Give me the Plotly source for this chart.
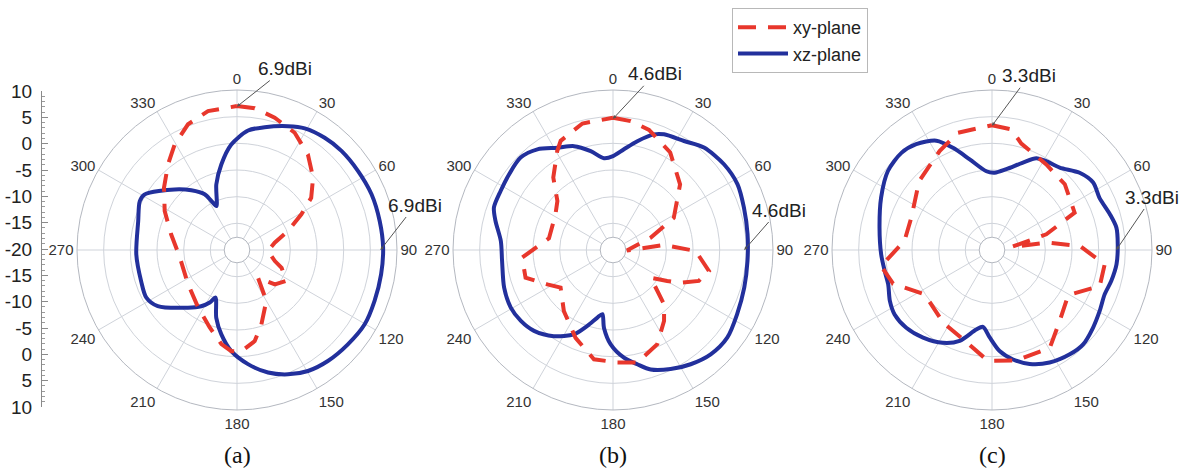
import math
import plotly.graph_objects as go

# ---------------- data (dB) ----------------
A_XZ_THETA = [5.3, 12.7, 22.4, 29.1, 38.0, 46.5, 56.9, 67.5, 78.5, 89.1, 99.6, 110.3, 120.2, 130.4,
              140.7, 149.6, 157.7, 165.8, 174.5, 183.2, 190.5, 197.0, 204.4, 207.4, 212.5, 220.4,
              234.7, 242.3, 252.0, 267.5, 286.3, 296.7, 301.1, 314.2, 322.6, 329.9, 332.4, 334.8,
              342.5, 349.6, 356.9]
A_XZ_R = [2.5, 3.6, 5.1, 6.1, 6.7, 7.0, 7.1, 7.3, 7.3, 7.4, 7.4, 7.5, 7.7, 7.3,
          6.9, 6.3, 5.2, 3.7, 1.5, -1.0, -3.9, -6.7, -10.2, -8.9, -7.5, -5.8,
          -1.8, -0.8, -1.1, -1.1, -0.7, 0.4, 0.2, -3.7, -5.9, -7.9, -9.6, -10.9,
          -7.1, -3.7, -0.2]

A_XY_THETA = [0, 7.1, 15.9, 26.2, 36.6, 46.4, 54.9, 61.0, 69.6, 79.0, 91.8, 106.3, 111.7, 122.1,
              132.3, 142.8, 150.0, 161.9, 169.0, 177.5, 183.2, 189.4, 199.4, 214.1, 235.0, 262.4,
              283.4, 298.3, 310.5, 321.1, 329.5, 338.7, 348.2]
A_XY_R = [7.0, 6.8, 5.8, 4.5, 2.3, -0.3, -3.0, -6.2, -9.8, -12.8, -14.2, -12.6, -11.0, -9.1,
          -10.4, -13.5, -9.0, -5.3, -2.6, -1.0, -1.0, -2.1, -4.6, -7.0, -8.8, -9.2,
          -7.3, -4.6, -2.0, 0.6, 3.0, 5.3, 6.6]

B_XZ_THETA = [0, 6.2, 12.6, 19.5, 23.8, 33.1, 41.6, 52.3, 62.2, 72.1, 83.3, 94.7, 106.0, 117.4,
              127.5, 136.9, 145.8, 154.2, 162.5, 168.0, 174.2, 181.4, 186.6, 189.4, 193.0, 198.7,
              204.8, 214.5, 224.3, 232.4, 240.6, 250.9, 264.3, 274.6, 283.9, 289.6, 297.7, 306.0,
              315.0, 323.1, 331.5, 339.4, 347.3, 354.4]
B_XZ_R = [-2.4, -1.0, 0.9, 3.0, 3.7, 4.4, 5.7, 6.3, 6.4, 5.8, 5.4, 5.3, 5.6, 6.2,
          7.0, 6.8, 5.9, 4.8, 3.5, 1.9, 0.3, -2.3, -5.3, -7.8, -7.0, -5.0,
          -2.6, -0.4, 1.2, 1.8, 2.0, 1.6, 0.9, 1.1, 2.7, 3.7, 3.8, 4.1,
          4.5, 3.6, 1.8, 0.8, -1.0, -2.7]

B_XY_THETA = [0, 7.8, 16.7, 30.4, 45.6, 62.1, 71.9, 92.0, 84.4, 90.7, 102.3, 109.8, 115.8, 119.7,
              126.3, 136.8, 144.3, 154.8, 167.8, 177.8, 189.9, 203.1, 218.8, 234.3, 242.4, 252.4,
              265.2, 280.3, 301.9, 311.4, 320.5, 330.6, 334.4, 346.4]
B_XY_R = [4.8, 4.4, 3.5, 1.2, -2.4, -7.1, -12.6, -17.4, -10.4, -4.5, -1.6, -2.9, -5.9, -8.3,
          -11.2, -6.0, -3.6, -0.5, 1.6, 1.1, 0.8, -2.1, -5.3, -7.9, -6.1, -2.8,
          -2.9, -7.8, -7.3, -6.1, -2.4, 1.3, 2.7, 4.4]

C_XZ_THETA = [2.0, 10.1, 19.5, 25.8, 31.4, 39.4, 48.6, 56.3, 64.1, 73.1, 79.8, 87.4, 96.6, 104.6,
              111.5, 119.5, 127.6, 136.0, 143.3, 152.9, 161.7, 169.1, 175.7, 181.5, 186.7, 191.2,
              199.6, 207.9, 218.2, 227.8, 236.5, 243.5, 251.7, 258.9, 267.8, 281.2, 295.3, 307.2,
              317.0, 324.4, 333.0, 339.1, 346.2, 355.9]
C_XZ_R = [-5.5, -4.6, -2.6, -0.9, -0.5, 0.0, 1.9, 2.8, 2.4, 3.1, 3.7, 3.6, 3.5, 3.1,
          2.7, 3.2, 3.9, 4.6, 4.4, 3.7, 2.5, 0.9, -1.0, -3.6, -5.5, -4.8,
          -1.9, -0.3, 0.9, 1.7, 1.9, 1.4, 0.5, 0.5, 0.8, 1.5, 3.0, 4.5,
          4.9, 4.4, 3.0, 0.5, -2.5, -5.2]

C_XY_THETA = [0, 9.1, 15.4, 32.4, 47.9, 65.7, 73.9, 81.2, 82.5, 87.4, 97.3, 108.5, 120.6, 136.4,
              149.4, 167.6, 182.1, 198.0, 214.0, 236.6, 251.2, 261.8, 275.9, 291.8, 313.4, 332.1,
              343.8]
C_XY_R = [3.4, 2.9, 0.7, -1.0, -1.6, -3.0, -9.4, -16.3, -9.4, -3.5, 1.3, 1.3, -3.4, -1.6,
          1.3, 1.2, 0.8, -2.4, -3.6, -4.9, -0.4, 1.0, -3.5, -3.7, -1.2, 1.0,
          2.9]

PEAK_DBI = [6.9, 4.6, 3.3]
PANEL_LABELS = ["(a)", "(b)", "(c)"]
SERIES_NAMES = ["xy-plane", "xz-plane"]
ANGLE_TICKS = list(range(0, 360, 30))
RADIAL_RINGS = [-15, -10, -5, 0, 5, 10]
LEFT_TICKVALS = list(range(-30, 31, 5))
LEFT_TICKTEXT = ["10", "5", "0", "-5", "-10", "-15", "-20", "-15", "-10", "-5", "0", "5", "10"]

# ---------------- styling / layout ----------------
W, H = 1188, 471
CY = 250
R = 160
CX = [237, 613, 992]
R_MAX = 10
HOLE = 0.08
R_MIN = -20 + 30 * HOLE  # keeps -20 dB at the centre of the disc
RED = "#e8372c"
BLUE = "#22309c"
GRID = "#cfd3da"
OUTER = "#b4b8c0"
FONT = "Liberation Sans, Arial, sans-serif"

panels = [
    (A_XZ_THETA, A_XZ_R, A_XY_THETA, A_XY_R),
    (B_XZ_THETA, B_XZ_R, B_XY_THETA, B_XY_R),
    (C_XZ_THETA, C_XZ_R, C_XY_THETA, C_XY_R),
]

fig = go.Figure()

for i, (zt, zr, yt, yr) in enumerate(panels):
    sub = "polar" if i == 0 else f"polar{i+1}"
    fig.add_trace(go.Scatterpolar(
        theta=zt + zt[:1], r=zr + zr[:1], mode="lines", subplot=sub,
        name=SERIES_NAMES[1], showlegend=(i == 0), legendrank=2,
        line=dict(color=BLUE, width=4, shape="spline", smoothing=0.8),
        hoverinfo="skip"))
    fig.add_trace(go.Scatterpolar(
        theta=yt + yt[:1], r=yr + yr[:1], mode="lines", subplot=sub,
        name=SERIES_NAMES[0], showlegend=(i == 0), legendrank=1,
        line=dict(color=RED, width=4, dash="18px,12px"),
        hoverinfo="skip"))

# dummy trace so the left dB scale (cartesian axis) is rendered
fig.add_trace(go.Scatter(x=[0.5], y=[0], mode="markers", marker=dict(opacity=0),
                         showlegend=False, hoverinfo="skip", xaxis="x", yaxis="y"))

layout = dict(
    width=W, height=H,
    margin=dict(l=0, r=0, t=0, b=0, pad=0, autoexpand=False),
    paper_bgcolor="white", plot_bgcolor="rgba(0,0,0,0)",
    showlegend=True,
    legend=dict(x=732 / W, y=1 - 8 / H, xanchor="left", yanchor="top",
                bordercolor="#b8b8b8", borderwidth=1, bgcolor="white",
                font=dict(size=18, family=FONT, color="#222"), itemwidth=50),
    xaxis=dict(domain=[42 / W, 44 / W], range=[0, 1], visible=False, fixedrange=True,
               automargin=False),
    yaxis=dict(domain=[(H - 407) / H, (H - 91) / H], range=[-30, 30], anchor="x",
               automargin=False,
               tickmode="array", tickvals=LEFT_TICKVALS, ticktext=LEFT_TICKTEXT,
               ticks="inside", ticklen=6, tickcolor="#8a8a8a", showline=True,
               linecolor="#8a8a8a", linewidth=1, showgrid=False, zeroline=False,
               ticklabelstandoff=5,
               minor=dict(tickmode="array", tickvals=list(range(-30, 31)), ticks="inside",
                          ticklen=3, tickcolor="#9a9a9a", showgrid=False),
               tickfont=dict(size=19, family=FONT, color="#222")),
)

for i, cx in enumerate(CX):
    key = "polar" if i == 0 else f"polar{i+1}"
    layout[key] = dict(
        domain=dict(x=[(cx - R) / W, (cx + R) / W], y=[(H - CY - R) / H, (H - CY + R) / H]),
        bgcolor="white",
        hole=HOLE,
        radialaxis=dict(range=[R_MIN, R_MAX], tickmode="array", tickvals=RADIAL_RINGS,
                        showticklabels=False, ticks="", showline=False,
                        gridcolor=GRID, gridwidth=1),
        angularaxis=dict(rotation=90, direction="clockwise", tickmode="array",
                         tickvals=ANGLE_TICKS, ticktext=[str(a) for a in ANGLE_TICKS],
                         ticks="", showline=True, linecolor=OUTER, linewidth=1,
                         gridcolor=GRID, gridwidth=1,
                         tickfont=dict(size=15, family=FONT, color="#333")),
    )

fig.update_layout(**layout)


def to_px(i, theta_deg, r):
    """Map a polar value of panel i to pixel position using the polar scale above."""
    frac = HOLE + (1 - HOLE) * (r - R_MIN) / (R_MAX - R_MIN)
    rp = frac * R
    t = math.radians(theta_deg)
    return CX[i] + rp * math.sin(t), CY - rp * math.cos(t)


# text offsets (pixels) for the peak-gain call-outs
TOP_OFFSETS = [(48, -38), (42, -45), (37, -50)]
RIGHT_OFFSETS = [(35, -45), (35, -40), (36, -53)]

for i, peak in enumerate(PEAK_DBI):
    for theta, (ax, ay) in ((0, TOP_OFFSETS[i]), (90, RIGHT_OFFSETS[i])):
        px, py = to_px(i, theta, peak)
        fig.add_annotation(x=px / W, y=1 - py / H, xref="paper", yref="paper",
                           text=f"{peak}dBi", showarrow=True, ax=ax, ay=ay,
                           arrowhead=2, arrowsize=0.7, arrowwidth=1, arrowcolor="#555",
                           standoff=0, startstandoff=0,
                           font=dict(size=19, family=FONT, color="#222"))
    fig.add_annotation(x=CX[i] / W, y=1 - 455 / H, xref="paper", yref="paper",
                       xanchor="center", yanchor="middle",
                       text=PANEL_LABELS[i], showarrow=False,
                       font=dict(size=24, family="Liberation Serif, Times New Roman, serif",
                                 color="#111"))

fig.write_html("out.html")
